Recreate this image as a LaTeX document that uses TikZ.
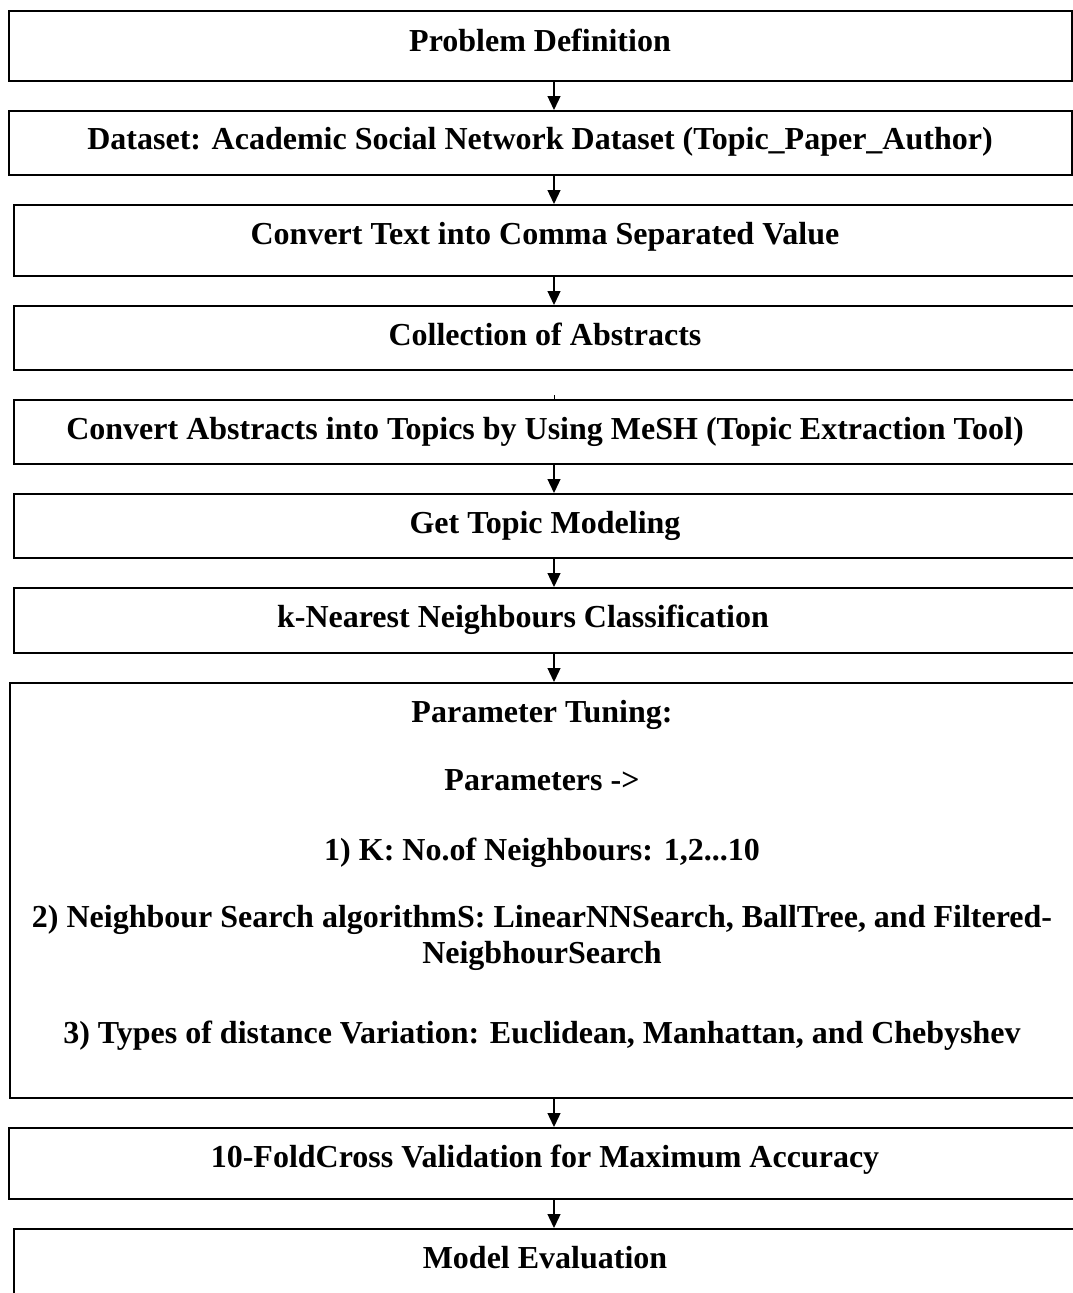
\documentclass[tikz,border=0pt]{standalone}
\usepackage{fontspec}
\setmainfont{Liberation Serif}
\usetikzlibrary{arrows.meta}

\tikzset{
  stepbox/.style={draw=black, line width=2pt, rectangle, inner sep=0pt, anchor=north west},
  lbl/.style={anchor=base, inner sep=0pt, align=center,
    font=\fontsize{32}{36}\selectfont\bfseries},
  flow/.style={draw=black, line width=1.3pt, -{Triangle[width=13pt,length=14pt]}}
}

\begin{document}
\begin{tikzpicture}[x=1pt,y=-1pt]
\useasboundingbox (0,0) rectangle (1072,1293);

% process boxes (corner at top left, then width and height)
\node[stepbox, minimum width=1063pt, minimum height=70pt] (b1) at (8,10) {};
\node[stepbox, minimum width=1063pt, minimum height=64pt] (b2) at (8,110) {};
\node[stepbox, minimum width=1072pt, minimum height=71pt] (b3) at (13,204) {};
\node[stepbox, minimum width=1072pt, minimum height=64pt] (b4) at (13,305) {};
\node[stepbox, minimum width=1072pt, minimum height=64pt] (b5) at (13,399) {};
\node[stepbox, minimum width=1072pt, minimum height=64pt] (b6) at (13,493) {};
\node[stepbox, minimum width=1072pt, minimum height=65pt] (b7) at (13,587) {};
\node[stepbox, minimum width=1076pt, minimum height=415pt] (b8) at (9,682) {};
\node[stepbox, minimum width=1077pt, minimum height=71pt] (b9) at (8,1127) {};
\node[stepbox, minimum width=1072pt, minimum height=90pt] (b10) at (13,1228) {};

% labels
\node[lbl] (t1) at (540,51) {Problem Definition};
\node[lbl] (t2) at (540,149) {Dataset: Academic Social Network Dataset (Topic\_Paper\_Author)};
\node[lbl] (t3) at (545,244) {Convert Text into Comma Separated Value};
\node[lbl] (t4) at (545,345) {Collection of Abstracts};
\node[lbl] (t5) at (545,439) {Convert Abstracts into Topics by Using MeSH (Topic Extraction Tool)};
\node[lbl] (t6) at (545,533) {Get Topic Modeling};
\node[lbl] (t7) at (523,627) {k-Nearest Neighbours Classification};
\node[lbl] (p1) at (542,722) {Parameter Tuning:};
\node[lbl] (p2) at (542,790) {Parameters -\textgreater};
\node[lbl] (p3) at (542,860) {1) K: No.of Neighbours: 1,2...10};
\node[lbl] (p4) at (542,963) {2) Neighbour Search algorithmS: LinearNNSearch, BallTree, and Filtered-\\NeigbhourSearch};
\node[lbl] (p5) at (542,1043) {3) Types of distance Variation: Euclidean, Manhattan, and Chebyshev};
\node[lbl] (t9) at (545,1167) {10-FoldCross Validation for Maximum Accuracy};
\node[lbl] (t10) at (545,1268) {Model Evaluation};

% connectors
\coordinate (ax) at (554,0);
\draw[flow] (b1.south -| ax) -- (b2.north -| ax);
\draw[flow] (b2.south -| ax) -- (b3.north -| ax);
\draw[flow] (b3.south -| ax) -- (b4.north -| ax);
\draw[line width=1pt] (b5.north -| ax) -- ++(0,-4);
\draw[flow] (b5.south -| ax) -- (b6.north -| ax);
\draw[flow] (b6.south -| ax) -- (b7.north -| ax);
\draw[flow] (b7.south -| ax) -- (b8.north -| ax);
\draw[flow] (b8.south -| ax) -- (b9.north -| ax);
\draw[flow] (b9.south -| ax) -- (b10.north -| ax);
\end{tikzpicture}
\end{document}
